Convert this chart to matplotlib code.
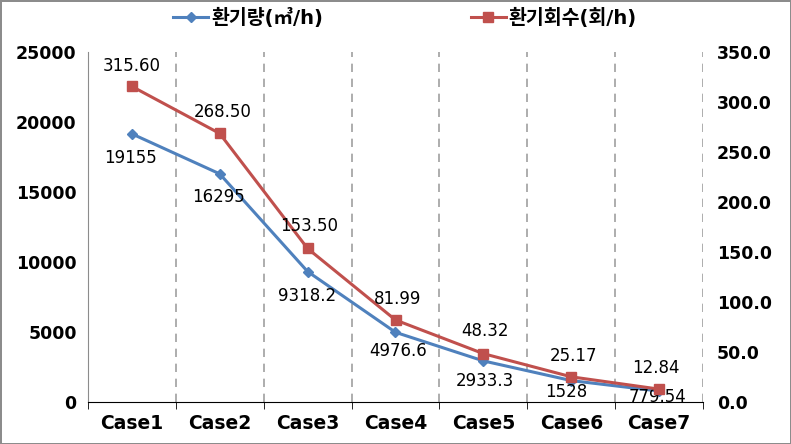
import matplotlib

matplotlib.use("Agg")
import matplotlib.pyplot as plt

plt.rcParams["font.family"] = ["DejaVu Sans", "Noto Sans CJK KR"]

cases = ["Case1", "Case2", "Case3", "Case4", "Case5", "Case6", "Case7"]
airflow = [19155, 16295, 9318.2, 4976.6, 2933.3, 1528, 779.54]
airflow_labels = ["19155", "16295", "9318.2", "4976.6", "2933.3", "1528", "779.54"]
ach = [315.60, 268.50, 153.50, 81.99, 48.32, 25.17, 12.84]
ach_labels = ["315.60", "268.50", "153.50", "81.99", "48.32", "25.17", "12.84"]
left_ticks = [0, 5000, 10000, 15000, 20000, 25000]
right_ticks = [0, 50, 100, 150, 200, 250, 300, 350]

BLUE = "#4F81BD"
RED = "#C0504D"

fig = plt.figure(figsize=(7.91, 4.44), dpi=100, edgecolor="#8c8c8c", linewidth=2)
ax = fig.add_axes([0.111, 0.0946, 0.778, 0.7884])
ax2 = ax.twinx()

x = list(range(len(cases)))
l1, = ax.plot(x, airflow, color=BLUE, lw=2.2, marker="D", ms=5, label="환기량(㎥/h)")
l2, = ax2.plot(x, ach, color=RED, lw=2.2, marker="s", ms=6.5, label="환기회수(회/h)")

ax.set_xlim(-0.5, len(cases) - 0.5)
ax.set_ylim(0, 25000)
ax2.set_ylim(0, 350)
ax.set_yticks(left_ticks)
ax.set_yticklabels([str(v) for v in left_ticks], fontsize=12.5, fontweight="bold")
ax2.set_yticks(right_ticks)
ax2.set_yticklabels([f"{v:.1f}" for v in right_ticks], fontsize=12.5, fontweight="bold")
ax.set_xticks(x)
ax.set_xticklabels(cases, fontsize=13.5, fontweight="bold")
ax.tick_params(axis="x", which="major", length=0, pad=9)
ax.set_xticks([i - 0.5 for i in range(len(cases) + 1)], minor=True)
ax.tick_params(axis="x", which="minor", length=5, color="black")
ax.tick_params(axis="y", length=0, pad=8)
ax2.tick_params(axis="y", length=0, pad=10)

for b in range(1, len(cases) + 1):
    ax.axvline(b - 0.5, color="#a0a0a0", lw=1.2, ls=(0, (5, 4)), zorder=0)

for a in (ax, ax2):
    a.spines["top"].set_visible(False)
    a.spines["right"].set_visible(False)
ax2.spines["left"].set_visible(False)
ax2.spines["bottom"].set_visible(False)
ax.spines["left"].set_color("#8c8c8c")
ax.spines["bottom"].set_color("black")

# data labels
ach_off = [(0, 20), (3, 21), (2, 22), (2, 21), (2, 23), (2, 21), (-3, 21)]
air_off = [(-1, -24), (-1, -23), (-1, -24), (3, -19), (1, -20), (-5, -11), (-2, -6)]
for i in x:
    ax2.annotate(ach_labels[i], (i, ach[i]), xytext=ach_off[i], textcoords="offset pixels",
                 ha="center", va="center", fontsize=12)
    ax.annotate(airflow_labels[i], (i, airflow[i]), xytext=air_off[i], textcoords="offset pixels",
                ha="center", va="center", fontsize=12)

fig.legend(handles=[l1, l2], loc="center", bbox_to_anchor=(0.512, 0.96), ncol=2,
           frameon=False, columnspacing=7.6, handlelength=1.8, handletextpad=0.15,
           prop={"size": 14, "weight": "bold"})

fig.savefig("out.png", dpi=100)
